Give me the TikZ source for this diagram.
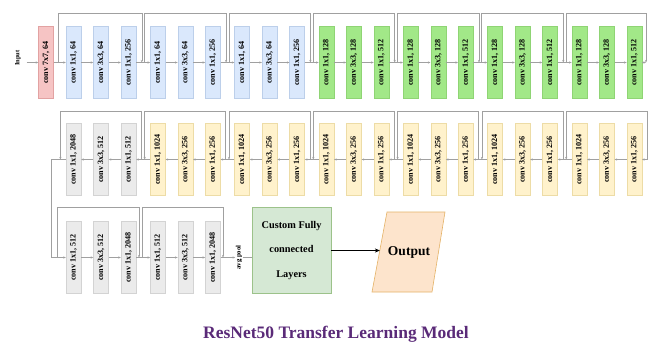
\documentclass[tikz,border=0pt]{standalone}
\usepackage{fontspec}
\setmainfont{Liberation Serif}
\usetikzlibrary{arrows.meta,calc}
\definecolor{lineg}{HTML}{A0A0A0}
\definecolor{redf}{HTML}{F6C4C4}
\definecolor{redd}{HTML}{E2A2A2}
\definecolor{bluef}{HTML}{DAE8FC}
\definecolor{blued}{HTML}{BCCFEA}
\definecolor{greenf}{HTML}{A2E888}
\definecolor{greend}{HTML}{8FD474}
\definecolor{yelf}{HTML}{FFF2CC}
\definecolor{yeld}{HTML}{EDDCA6}
\definecolor{grayf}{HTML}{EBEBEB}
\definecolor{grayd}{HTML}{D3D3D3}
\definecolor{custf}{HTML}{D5E8D4}
\definecolor{custd}{HTML}{9CC28A}
\definecolor{outf}{HTML}{FDE4CC}
\definecolor{outd}{HTML}{E4B266}
\definecolor{titlec}{HTML}{5A2A78}
\begin{document}
\begin{tikzpicture}[x=1pt,y=-1pt,
  cbox/.style={draw, line width=0.4pt, minimum width=15pt, minimum height=72pt, inner sep=0pt,
    font=\bfseries\fontsize{8.1}{9}\selectfont},
  redb/.style={cbox, fill=redf, draw=redd},
  blueb/.style={cbox, fill=bluef, draw=blued},
  greenb/.style={cbox, fill=greenf, draw=greend},
  yelb/.style={cbox, fill=yelf, draw=yeld},
  grayb/.style={cbox, fill=grayf, draw=grayd},
  lin/.style={draw=lineg, line width=0.55pt},
  arr/.style={lin, -{Stealth[length=2.6pt,width=2.2pt]}},
  barr/.style={draw=black, line width=0.6pt, -{Stealth[length=5pt,width=4.2pt]}},
  lbl/.style={inner sep=0.5pt, font=\bfseries\fontsize{6.5}{7}\selectfont},
]
\useasboundingbox (0,0) rectangle (648,343);

% ---------- Row 1 ----------
\node[lbl] (inp) at (18,58) {\rotatebox{90}{Input}};
\node[redb] (red) at (46,62.5) {\rotatebox{90}{conv 7x7, 64}};
\draw[arr] (inp.east |- red.west) ++(5,0) -- (red.west);
\foreach \k/\st/\ta/\tb/\tc in {0/blueb/64/64/256,1/blueb/64/64/256,2/blueb/64/64/256,
   3/greenb/128/128/512,4/greenb/128/128/512,5/greenb/128/128/512,6/greenb/128/128/512}{
  \pgfmathsetmacro\g{66+84.3*\k}
  \node[\st] (pa\k) at (\g+7.5,62.5) {\rotatebox{90}{conv 1x1, \ta}};
  \node[\st] (pb\k) at (\g+35,62.5) {\rotatebox{90}{conv 3x3, \tb}};
  \node[\st] (pc\k) at (\g+62.5,62.5) {\rotatebox{90}{conv 1x1, \tc}};
  \draw[arr] (pa\k) -- (pb\k);
  \draw[arr] (pb\k) -- (pc\k);
  \pgfmathsetmacro\sx{ifthenelse(\k==0,58,\g-7+1.2)}
  \pgfmathsetmacro\ex{ifthenelse(\k==6,646,\g+77-1.2)}
  \coordinate (ps\k) at (\sx,62.5);
  \coordinate (pe\k) at (\ex,62.5);
  \draw[arr] (ps\k) -- ++(0,-49.5) -| (pe\k);
}
\draw[arr] (red) -- (pa0);
\foreach \k [evaluate=\k as \n using int(\k+1)] in {0,...,5}{
  \draw[arr] (pc\k) -- (pa\n);
}
\draw[arr] (pc6) -- (pe6);

% ---------- Row 2 ----------
\foreach \k/\st/\ta/\tb/\tc in {0/grayb/2048/512/512,1/yelb/1024/256/256,2/yelb/1024/256/256,
   3/yelb/1024/256/256,4/yelb/1024/256/256,5/yelb/1024/256/256,6/yelb/1024/256/256}{
  \pgfmathsetmacro\g{66+84.3*\k}
  \node[\st] (qa\k) at (\g+7.5,159.5) {\rotatebox{90}{conv 1x1, \ta}};
  \node[\st] (qb\k) at (\g+35,159.5) {\rotatebox{90}{conv 3x3, \tb}};
  \node[\st] (qc\k) at (\g+62.5,159.5) {\rotatebox{90}{conv 1x1, \tc}};
  \draw[arr] (qc\k) -- (qb\k);
  \draw[arr] (qb\k) -- (qa\k);
  \pgfmathsetmacro\sx{ifthenelse(\k==6,647.6,\g+77-1.6)}
  \pgfmathsetmacro\ex{\g-7+1.4}
  \coordinate (qs\k) at (\sx,159.5);
  \coordinate (qe\k) at (\ex,159.5);
  \draw[arr] (qs\k) -- ++(0,-48.5) -| (qe\k);
}
\foreach \k [evaluate=\k as \n using int(\k+1)] in {0,...,5}{
  \draw[arr] (qa\n) -- (qc\k);
}
\coordinate (qin) at (648,159.5);
\draw[arr] (qin) -- (qc6);

% ---------- Row 3 ----------
\foreach \k/\ta/\tb/\tc in {0/512/512/2048,1/512/512/2048}{
  \pgfmathsetmacro\g{66+84.3*\k}
  \node[grayb] (ra\k) at (\g+7.5,257.5) {\rotatebox{90}{conv 1x1, \ta}};
  \node[grayb] (rb\k) at (\g+35,257.5) {\rotatebox{90}{conv 3x3, \tb}};
  \node[grayb] (rc\k) at (\g+62.5,257.5) {\rotatebox{90}{conv 1x1, \tc}};
  \draw[arr] (ra\k) -- (rb\k);
  \draw[arr] (rb\k) -- (rc\k);
}
\coordinate (rs0) at (57,257.5);
\coordinate (re0) at (139,257.5);
\coordinate (rs1) at (142.5,257.5);
\coordinate (re1) at (223,257.5);
\draw[arr] (rs0) -- ++(0,-50.5) -| (re0);
\draw[arr] (rs1) -- ++(0,-50.5) -| (re1);
\draw[arr] (rc0) -- (ra1);
\draw[arr] (qa0.west) -- ++(-15,0) |- (ra0.west);

\node[lbl, font=\bfseries\fontsize{6.8}{7}\selectfont] (avg) at (239,257.5) {\rotatebox{90}{avg pool}};
\draw[arr] (rc1) -- (avg);

\node[draw=custd, fill=custf, line width=0.6pt, minimum width=79pt, minimum height=86pt,
  align=center, font=\bfseries\fontsize{10.3}{24.5}\selectfont] (cust) at (291.5,250.5)
  {Custom Fully\\connected\\Layers};
\draw[lin] (avg.east) -- (avg.east -| cust.west);

% Output parallelogram
\node[inner sep=0pt, font=\bfseries\fontsize{13.5}{15}\selectfont] (outp) at (409,252) {\phantom{Output}};
\draw[draw=outd, fill=outf, line width=0.6pt]
  ($(outp)+(-22,-40)$) -- ($(outp)+(36,-40)$) -- ($(outp)+(23,40)$) -- ($(outp)+(-37,40)$) -- cycle;
\node[inner sep=0pt, font=\bfseries\fontsize{13.5}{15}\selectfont] (outt) at (outp) {Output};
\coordinate (outin) at (379.8,250.5);
\draw[barr] (cust.east) -- (outin);

\node[anchor=base, inner sep=0pt, text=titlec, font=\bfseries\fontsize{17.5}{20}\selectfont] (title)
  at (336,338.5) {ResNet50 Transfer Learning Model};
\end{tikzpicture}
\end{document}
